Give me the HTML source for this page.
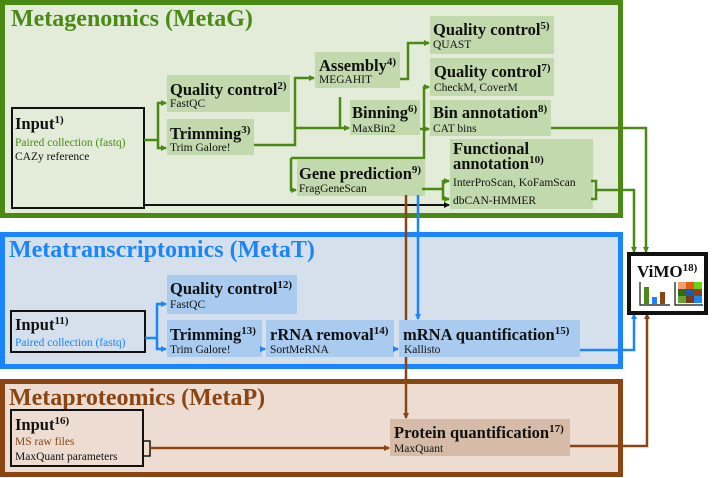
<!DOCTYPE html>
<html><head><meta charset="utf-8"><style>
body{margin:0;background:#fff}
svg{display:block;font-family:"Liberation Serif",serif}
.t{font-weight:bold;font-size:16.5px;fill:#111}
.s{font-size:11.5px;fill:#111}
.g{stroke:#4a8a14;stroke-width:2.5;fill:none}
.b{stroke:#1a85ff;stroke-width:2.5;fill:none}
.r{stroke:#8b4513;stroke-width:2.5;fill:none}
</style></head><body>
<svg width="713" height="478" viewBox="0 0 713 478" xmlns="http://www.w3.org/2000/svg">
<defs>
<marker id="ag" markerWidth="6" markerHeight="6" refX="5" refY="3" orient="auto" markerUnits="userSpaceOnUse"><path d="M0,0L6,3L0,6z" fill="#4a8a14"/></marker>
<marker id="ab" markerWidth="6" markerHeight="6" refX="5" refY="3" orient="auto" markerUnits="userSpaceOnUse"><path d="M0,0L6,3L0,6z" fill="#1a85ff"/></marker>
<marker id="ar" markerWidth="6" markerHeight="6" refX="5" refY="3" orient="auto" markerUnits="userSpaceOnUse"><path d="M0,0L6,3L0,6z" fill="#8b4513"/></marker>
<marker id="ak" markerWidth="6" markerHeight="6" refX="5" refY="3" orient="auto" markerUnits="userSpaceOnUse"><path d="M0,0L6,3L0,6z" fill="#111"/></marker>
</defs>
<!-- panels -->
<rect x="2.5" y="2.5" width="618" height="213" fill="#e2ecd9" stroke="#4a8a14" stroke-width="5"/>
<rect x="2.5" y="234.5" width="618" height="132" fill="#d5e0ec" stroke="#1a85ff" stroke-width="5"/>
<rect x="2.5" y="381.5" width="618" height="93" fill="#ecdcd1" stroke="#8b4513" stroke-width="5"/>
<text x="11" y="26" font-size="24" font-weight="bold" fill="#4a8a14">Metagenomics (MetaG)</text>
<text x="9" y="257" font-size="24" font-weight="bold" fill="#1a85ff">Metatranscriptomics (MetaT)</text>
<text x="9" y="405" font-size="24" font-weight="bold" fill="#8b4513">Metaproteomics (MetaP)</text>

<!-- MetaG boxes -->
<rect x="12" y="108" width="132" height="100" fill="#e2ecd9" stroke="#111" stroke-width="2"/>
<text x="15" y="129" class="t">Input<tspan font-size="11" dy="-6">1)</tspan></text>
<text x="15" y="146" class="s" style="fill:#4a8a14">Paired collection (fastq)</text>
<text x="15" y="160" class="s">CAZy reference</text>

<g fill="#c2d9ae">
<rect x="167" y="75" width="123" height="37"/>
<rect x="167" y="119" width="87" height="36"/>
<rect x="315" y="52" width="85" height="36"/>
<rect x="350" y="100" width="70" height="35"/>
<rect x="430" y="16" width="124" height="38"/>
<rect x="430" y="58" width="124" height="38"/>
<rect x="430" y="100" width="121" height="36"/>
<rect x="450" y="139" width="143" height="70"/>
<rect x="297" y="160" width="128" height="36"/>
</g>
<text x="170" y="95" class="t">Quality control<tspan font-size="11" dy="-6">2)</tspan></text>
<text x="170" y="107" class="s">FastQC</text>
<text x="170" y="139" class="t">Trimming<tspan font-size="11" dy="-6">3)</tspan></text>
<text x="170" y="151" class="s">Trim Galore!</text>
<text x="319" y="71" class="t">Assembly<tspan font-size="11" dy="-6">4)</tspan></text>
<text x="319" y="83" class="s">MEGAHIT</text>
<text x="352" y="118" class="t">Binning<tspan font-size="11" dy="-6">6)</tspan></text>
<text x="352" y="132" class="s">MaxBin2</text>
<text x="433" y="35" class="t">Quality control<tspan font-size="11" dy="-6">5)</tspan></text>
<text x="433" y="48" class="s">QUAST</text>
<text x="434" y="77" class="t">Quality control<tspan font-size="11" dy="-6">7)</tspan></text>
<text x="434" y="91" class="s">CheckM, CoverM</text>
<text x="433" y="118" class="t">Bin annotation<tspan font-size="11" dy="-6">8)</tspan></text>
<text x="433" y="132" class="s">CAT bins</text>
<text x="453" y="154" class="t">Functional</text>
<text x="453" y="169" class="t">annotation<tspan font-size="11" dy="-6">10)</tspan></text>
<text x="453" y="186" class="s">InterProScan, KoFamScan</text>
<text x="453" y="204" class="s">dbCAN-HMMER</text>
<text x="299" y="179" class="t">Gene prediction<tspan font-size="11" dy="-6">9)</tspan></text>
<text x="299" y="192" class="s">FragGeneScan</text>

<!-- MetaG connectors -->
<path class="g" d="M144,140 H158 V103 H166" marker-end="url(#ag)"/>
<path class="g" d="M158,140 V148 H166" marker-end="url(#ag)"/>
<path class="g" d="M254,145 H295 V128 H349" marker-end="url(#ag)"/>
<path class="g" d="M295,128 V78 H314" marker-end="url(#ag)"/>
<path class="g" d="M400,79 H408 V43 H429" marker-end="url(#ag)"/>
<path class="g" d="M420,129 H429" marker-end="url(#ag)"/>
<path class="g" d="M340,97 V128"/>
<path class="g" d="M291,158 H424 V87 H429" marker-end="url(#ag)"/>
<path class="g" d="M291,158 V190 H296" marker-end="url(#ag)"/>
<path class="g" d="M422,189 H443 V181 H449" marker-end="url(#ag)"/>
<path class="g" d="M443,189 V199 H449" marker-end="url(#ag)"/>
<path stroke="#111" stroke-width="2" fill="none" d="M144,205 H449" marker-end="url(#ak)"/>
<path class="g" d="M551,128 H646 V252" marker-end="url(#ag)"/>
<path class="g" d="M591,181 H596 V190 H634 V252" marker-end="url(#ag)"/>
<path class="g" d="M591,199 H596 V190"/>
<!-- cross lines -->
<path class="r" d="M406,195 V418" marker-end="url(#ar)"/>
<path class="b" d="M418,195 V319" marker-end="url(#ab)"/>

<!-- MetaT -->
<rect x="11" y="311" width="134" height="41" fill="#d5e0ec" stroke="#111" stroke-width="2"/>
<text x="15" y="330" class="t">Input<tspan font-size="11" dy="-6">11)</tspan></text>
<text x="15" y="346" class="s" style="fill:#1a85ff">Paired collection (fastq)</text>
<g fill="#a9cbf0">
<rect x="167" y="275" width="130" height="39"/>
<rect x="167" y="320" width="95" height="37"/>
<rect x="266" y="320" width="128" height="37"/>
<rect x="399" y="320" width="181" height="37"/>
</g>
<text x="170" y="294" class="t">Quality control<tspan font-size="11" dy="-6">12)</tspan></text>
<text x="170" y="308" class="s">FastQC</text>
<text x="170" y="340" class="t">Trimming<tspan font-size="11" dy="-6">13)</tspan></text>
<text x="170" y="353" class="s">Trim Galore!</text>
<text x="270" y="340" class="t">rRNA removal<tspan font-size="11" dy="-6">14)</tspan></text>
<text x="270" y="353" class="s">SortMeRNA</text>
<text x="403" y="340" class="t">mRNA quantification<tspan font-size="11" dy="-6">15)</tspan></text>
<text x="404" y="353" class="s">Kallisto</text>
<path class="b" d="M145,338 H157 V304 H166" marker-end="url(#ab)"/>
<path class="b" d="M157,338 V349 H166" marker-end="url(#ab)"/>
<path class="b" d="M262,349 H265" marker-end="url(#ab)"/>
<path class="b" d="M394,349 H398" marker-end="url(#ab)"/>
<path class="b" d="M580,350 H634 V314" marker-end="url(#ab)"/>

<!-- MetaP -->
<rect x="11" y="410" width="132" height="56" fill="#ecdcd1" stroke="#111" stroke-width="2"/>
<text x="15" y="430" class="t">Input<tspan font-size="11" dy="-6">16)</tspan></text>
<text x="15" y="445" class="s" style="fill:#8b4513">MS raw files</text>
<text x="15" y="460" class="s">MaxQuant parameters</text>
<path d="M143,441 H150 V456 H143" stroke="#111" stroke-width="1.5" fill="none"/>
<rect x="390" y="419" width="180" height="37" fill="#d6bca8"/>
<text x="394" y="438" class="t">Protein quantification<tspan font-size="11" dy="-6">17)</tspan></text>
<text x="394" y="452" class="s">MaxQuant</text>
<path class="r" d="M150,448 H389" marker-end="url(#ar)"/>
<path class="r" d="M570,446 H647 V314" marker-end="url(#ar)"/>

<!-- ViMO -->
<rect x="629" y="254" width="77" height="59" fill="#fff" stroke="#111" stroke-width="4"/>
<text x="637" y="277" font-size="17" font-weight="bold" fill="#111">ViMO<tspan font-size="11" dy="-6">18)</tspan></text>
<path d="M640,282 V305 H670" stroke="#111" stroke-width="1.2" fill="none"/>
<rect x="644" y="287" width="5" height="17" fill="#4a8a14"/>
<rect x="652" y="297" width="5" height="7" fill="#1a85ff"/>
<rect x="660" y="292" width="5" height="12" fill="#8b4513"/>
<path d="M675,282 V305 H703" stroke="#111" stroke-width="1.2" fill="none"/>
<g>
<rect x="678" y="282" width="8" height="7" fill="#f0a070"/><rect x="686" y="282" width="8" height="7" fill="#e06010"/><rect x="694" y="282" width="8" height="7" fill="#70d020"/>
<rect x="678" y="289" width="8" height="7" fill="#2d6a10"/><rect x="686" y="289" width="8" height="7" fill="#1a5ab0"/><rect x="694" y="289" width="8" height="7" fill="#8b4513"/>
<rect x="678" y="296" width="8" height="7" fill="#6aa030"/><rect x="686" y="296" width="8" height="7" fill="#7a3a10"/><rect x="694" y="296" width="8" height="7" fill="#1a85ff"/>
</g>
</svg>
</body></html>
